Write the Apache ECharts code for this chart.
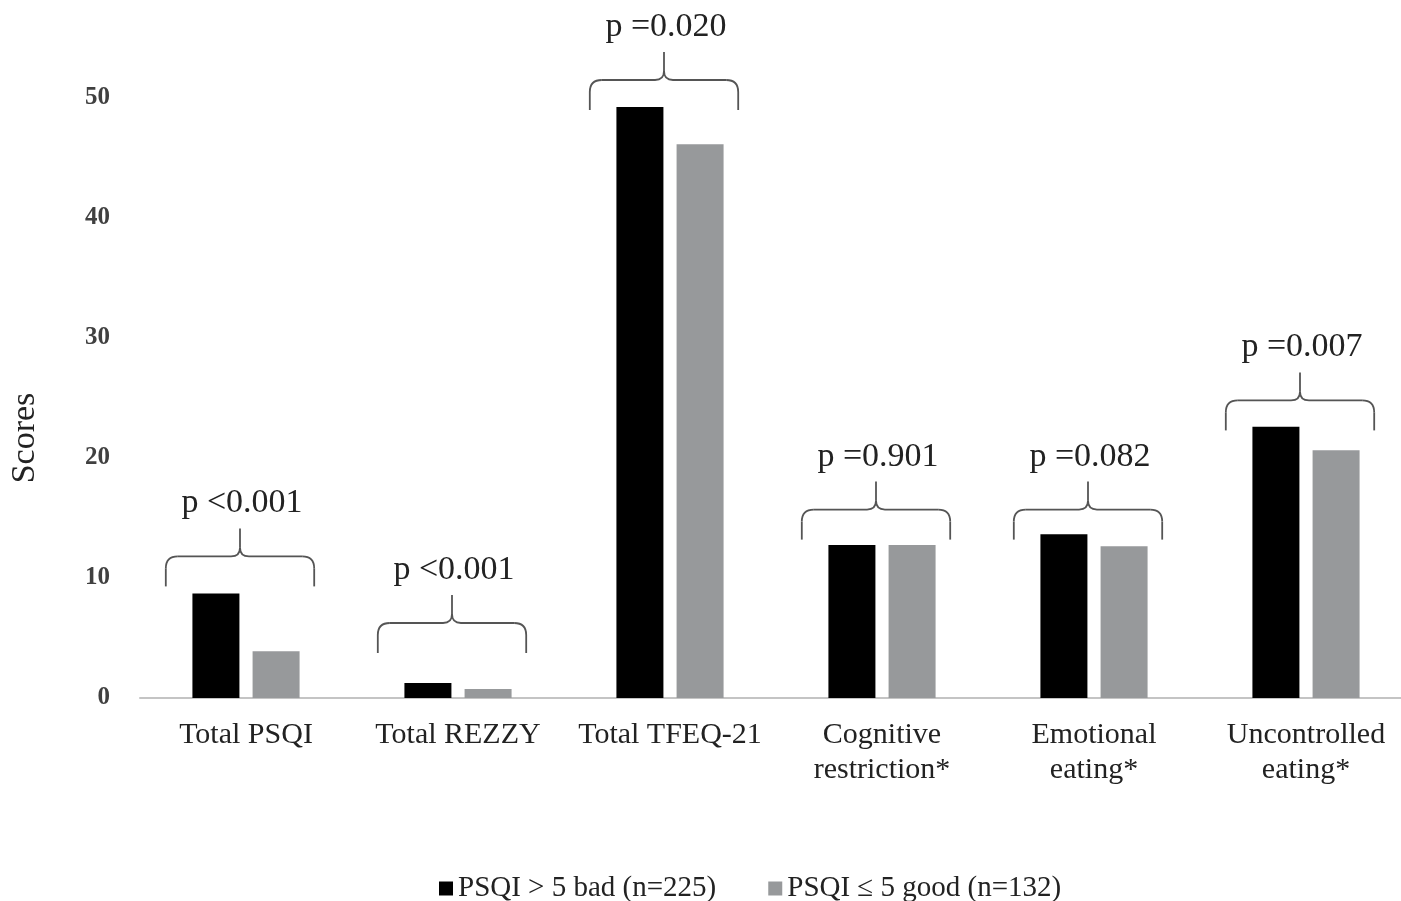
<!DOCTYPE html>
<html>
<head>
<meta charset="utf-8">
<script src="https://cdn.jsdelivr.net/npm/echarts@6/dist/echarts.min.js"></script>
<style>
html,body{margin:0;padding:0;background:#fff;overflow:hidden;}
#main{width:1412px;height:901px;}
</style>
</head>
<body>
<div id="main"></div>
<script>
const categories = ['Total PSQI', 'Total REZZY', 'Total TFEQ-21', 'Cognitive\nrestriction*', 'Emotional\neating*', 'Uncontrolled\neating*'];
const badSleep = [8.7, 1.25, 49.25, 12.75, 13.65, 22.6];
const goodSleep = [3.9, 0.75, 46.15, 12.75, 12.65, 20.65];
const braceBase = [9.3, 3.75, 49.0, 13.2, 13.2, 22.3];
const pLabels = ['p <0.001', 'p <0.001', 'p =0.020', 'p =0.901', 'p =0.082', 'p =0.007'];
const yTicks = [0, 10, 20, 30, 40, 50];
const seriesNames = ['PSQI > 5 bad (n=225)', 'PSQI \u2264 5 good (n=132)'];

const serif = '"Liberation Serif", "Times New Roman", serif';
const chart = echarts.init(document.getElementById('main'));

function braceItem(params, api) {
  const idx = params.dataIndex;
  const p = api.coord([api.value(0), api.value(1)]);
  const hw = api.size([1, 0])[0] * 0.35;
  const cx = p[0] - 6, B = p[1], H = B - 30, T = B - 58, r = 12, rc = 9;
  const L = cx - hw, R = cx + hw;
  const st = { stroke: '#555', lineWidth: 1.8, fill: null };
  const children = [
    { type: 'line', shape: { x1: L, y1: B, x2: L, y2: H + r }, style: st },
    { type: 'bezierCurve', shape: { x1: L, y1: H + r, cpx1: L, cpy1: H, x2: L + r, y2: H }, style: st },
    { type: 'line', shape: { x1: L + r, y1: H, x2: cx - rc, y2: H }, style: st },
    { type: 'bezierCurve', shape: { x1: cx - rc, y1: H, cpx1: cx, cpy1: H, x2: cx, y2: H - rc }, style: st },
    { type: 'line', shape: { x1: cx, y1: H - rc, x2: cx, y2: T }, style: st },
    { type: 'bezierCurve', shape: { x1: cx + rc, y1: H, cpx1: cx, cpy1: H, x2: cx, y2: H - rc }, style: st },
    { type: 'line', shape: { x1: cx + rc, y1: H, x2: R - r, y2: H }, style: st },
    { type: 'bezierCurve', shape: { x1: R - r, y1: H, cpx1: R, cpy1: H, x2: R, y2: H + r }, style: st },
    { type: 'line', shape: { x1: R, y1: H + r, x2: R, y2: B }, style: st },
    { type: 'text', style: { text: pLabels[idx], x: cx + 2, y: B - 83, align: 'center', verticalAlign: 'middle', font: '34px ' + serif, fill: '#222' } }
  ];
  return { type: 'group', children: children };
}

chart.setOption({
  animation: false,
  backgroundColor: '#ffffff',
  grid: { left: 139, right: 0, top: 98, bottom: 203, containLabel: false },
  legend: {
    data: seriesNames,
    left: 434, top: 869,
    icon: 'rect', itemWidth: 14, itemHeight: 14, itemGap: 52,
    textStyle: { fontFamily: serif, fontSize: 29, color: '#222' }
  },
  xAxis: {
    type: 'category',
    data: categories,
    axisLine: { show: true, lineStyle: { color: '#c4c4c4', width: 2 } },
    axisTick: { show: false },
    axisLabel: { interval: 0, margin: 20, fontFamily: serif, fontSize: 30, color: '#222', lineHeight: 35 }
  },
  yAxis: {
    type: 'value',
    min: 0, max: 50, interval: 10,
    name: 'Scores',
    nameLocation: 'middle',
    nameGap: 98,
    nameTextStyle: { fontFamily: serif, fontSize: 34, color: '#222', padding: [0, 80, 0, 0] },
    axisLine: { show: false },
    axisTick: { show: false },
    splitLine: { show: false },
    axisLabel: { margin: 30, fontFamily: serif, fontSize: 25, fontWeight: 'bold', color: '#404040',
      formatter: function (v) { return yTicks.indexOf(v) >= 0 ? String(v) : ''; } }
  },
  series: [
    { name: seriesNames[0], type: 'bar', data: badSleep, barWidth: 47, barGap: '28%',
      itemStyle: { color: '#000000' } },
    { name: seriesNames[1], type: 'bar', data: goodSleep, barWidth: 47,
      itemStyle: { color: '#97999b' } },
    { name: 'braces', type: 'custom', renderItem: braceItem, z: 5, silent: true,
      data: braceBase.map(function (v, i) { return [i, v]; }),
      encode: { x: 0, y: 1 } }
  ]
});
</script>
</body>
</html>
